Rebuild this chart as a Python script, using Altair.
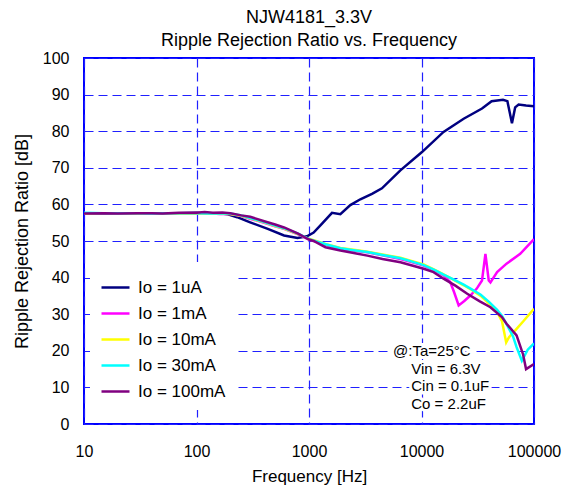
import altair as alt
import pandas as pd

series_names = ["Io = 1uA", "Io = 1mA", "Io = 10mA", "Io = 30mA", "Io = 100mA"]
series_colors = ["#000080", "#ff00ff", "#ffff00", "#00ffff", "#800080"]

# Io = 1uA
f_1uA = [10, 15, 20, 30, 40, 50, 70, 100, 130, 160, 190, 230, 300, 430, 600, 790, 960,
         1100, 1300, 1600, 1900, 2330, 2860, 3630, 4450, 6490, 10100, 15700, 23700,
         34500, 42000, 53000, 58000, 63700, 68000, 73000, 85000, 100000]
v_1uA = [57.6, 57.5, 57.6, 57.5, 57.6, 57.5, 57.6, 57.7, 57.5, 57.6, 57.3, 56.5, 55.1,
         53.3, 51.5, 50.8, 51.3, 52.3, 54.7, 57.7, 57.3, 59.8, 61.4, 62.9, 64.4, 69.3,
         74.3, 79.8, 83.4, 86.2, 88.2, 88.6, 88.2, 82.2, 86.5, 87.3, 87.0, 86.8]

# shared low-frequency part for 1mA / 10mA / 30mA
f_base = [10, 15, 20, 30, 40, 50, 70, 100, 130, 160, 200, 250, 300, 400, 500, 600, 800,
          1000, 1400, 1900, 2500, 3300, 4500, 6500, 8000, 10450, 13000, 15700]
v_1mA_low = [57.6, 57.6, 57.5, 57.6, 57.5, 57.6, 57.5, 57.5, 57.6, 57.4, 57.4, 56.8,
             56.1, 55.0, 54.0, 53.3, 51.8, 50.4, 49.0, 47.9, 47.4, 46.9, 46.1, 45.1,
             44.3, 43.3, 42.0, 40.6]
v_10mA_low = [57.5, 57.6, 57.6, 57.5, 57.6, 57.6, 57.5, 57.6, 57.5, 57.5, 57.4, 56.9,
              56.2, 55.1, 54.1, 53.4, 51.9, 50.6, 49.2, 48.1, 47.6, 47.1, 46.3, 45.4,
              44.6, 43.6, 42.2, 40.9]
v_30mA_low = [57.7, 57.6, 57.6, 57.6, 57.5, 57.6, 57.6, 57.6, 57.5, 57.6, 57.5, 57.0,
              56.3, 55.2, 54.2, 53.5, 52.0, 50.5, 49.1, 48.0, 47.5, 47.0, 46.2, 45.3,
              44.5, 43.4, 42.1, 40.8]

f_1mA_high = [18000, 19500, 21400, 24000, 27200, 31000, 34500, 37000, 39600, 41000,
              47000, 57000, 75400, 100000]
v_1mA_high = [38.8, 36.0, 32.4, 33.6, 35.1, 37.0, 39.2, 46.5, 39.2, 38.7, 41.5, 43.8,
              46.5, 50.5]

f_10mA_high = [19000, 23700, 28000, 33600, 40000, 47000, 52000, 56600, 60000, 70000,
               80000, 100000]
v_10mA_high = [39.5, 37.9, 36.6, 35.0, 32.8, 30.6, 28.0, 22.3, 23.7, 26.0, 28.0, 31.5]

f_30mA_high = [19000, 23700, 28000, 33600, 40000, 47000, 52000, 56600, 65000, 70000,
               78000, 88000, 100000]
v_30mA_high = [39.6, 38.1, 36.8, 35.3, 33.3, 31.2, 29.5, 27.5, 24.0, 21.0, 17.3, 20.3, 22.0]

# Io = 100mA
f_100mA = [10, 15, 20, 30, 40, 50, 70, 100, 118, 140, 170, 200, 250, 300, 400, 500, 600,
           800, 1000, 1100, 1400, 1900, 2500, 3300, 4500, 6500, 10450, 12800, 15700,
           20000, 25500, 33000, 41000, 51800, 57000, 70000, 80000, 85000, 100000]
v_100mA = [57.5, 57.6, 57.5, 57.6, 57.6, 57.5, 57.7, 57.7, 57.9, 57.7, 57.8, 57.6, 57.0,
           56.6, 55.4, 54.5, 53.7, 52.0, 50.4, 50.0, 48.3, 47.4, 46.7, 46.0, 45.1, 44.2,
           42.4, 41.5, 39.7, 37.8, 35.6, 33.5, 31.9, 29.2, 27.4, 24.2, 19.0, 15.0, 16.4]

ann_text = ["@:Ta=25°C", "Vin = 6.3V", "Cin = 0.1uF", "Co = 2.2uF"]
ann_freq = [5585, 8110, 8110, 8110]
ann_val = [20.0, 15.0, 10.3, 5.5]

series_f = [f_1uA, f_base + f_1mA_high, f_base + f_10mA_high, f_base + f_30mA_high, f_100mA]
series_v = [v_1uA, v_1mA_low + v_1mA_high, v_10mA_low + v_10mA_high,
            v_30mA_low + v_30mA_high, v_100mA]

rows = []
for name, fs, vs in zip(series_names, series_f, series_v):
    for i, (f, v) in enumerate(zip(fs, vs)):
        rows.append({"series": name, "freq": f, "val": v, "idx": i})
df = pd.DataFrame(rows)
ann = pd.DataFrame({"text": ann_text, "freq": ann_freq, "val": ann_val})

FONT = "Liberation Sans"
x_scale = alt.Scale(type="log", domain=[10, 100000])
y_scale = alt.Scale(domain=[0, 100])

x_axis = alt.Axis(values=[10, 100, 1000, 10000, 100000], format="d", title="Frequency [Hz]",
                  labelPadding=19, tickSize=0, domain=False, labelFontSize=16,
                  titleFontSize=17, titleFontWeight="normal", titleY=52,
                  titleBaseline="middle", labelFlush=False,
                  grid=True, gridColor="#2020ff", gridDash=[9, 5], gridWidth=1.2)
y_axis = alt.Axis(values=list(range(0, 101, 10)), title="Ripple Rejection Ratio [dB]",
                  labelPadding=15, tickSize=0, domain=False, labelFontSize=16,
                  titleFontSize=18, titleFontWeight="normal", titleX=-62,
                  titleBaseline="middle", labelFlush=False,
                  grid=True, gridColor="#2020ff", gridDash=[9, 5], gridWidth=1.2)

legend = alt.Legend(orient="none", legendX=6, legendY=204, title=None, fillColor="white",
                    padding=10, symbolType="stroke", symbolSize=784, symbolStrokeWidth=2.5,
                    labelFontSize=17, labelOffset=7, rowPadding=2, labelFont=FONT)
color = alt.Color("series:N", scale=alt.Scale(domain=series_names, range=series_colors),
                  legend=legend)

X = alt.X("freq:Q", scale=x_scale, axis=x_axis)
Y = alt.Y("val:Q", scale=y_scale, axis=y_axis)

base = alt.Chart(df)
layers = []
for name in series_names:
    layer = base.transform_filter(alt.datum.series == name).mark_line(
        strokeWidth=2.5, clip=True).encode(x=X, y=Y, color=color, order="idx:Q")
    layers.append(layer)

halo = alt.Chart(ann).mark_text(align="left", baseline="middle", fontSize=15, font=FONT,
                                 stroke="white", strokeWidth=6, fill="white").encode(
    x=X, y=Y, text="text:N")
txt = alt.Chart(ann).mark_text(align="left", baseline="middle", fontSize=15, font=FONT,
                                color="black").encode(x=X, y=Y, text="text:N")

chart = alt.layer(*layers, halo, txt).properties(
    width=450, height=366,
    title=alt.TitleParams(["NJW4181_3.3V", "Ripple Rejection Ratio vs. Frequency"],
                          fontSize=18, fontWeight="normal", font=FONT, anchor="middle",
                          offset=0, lineHeight=23, color="black"),
    autosize=alt.AutoSizeParams(type="none"),
    padding={"left": 76, "top": 50, "right": 37, "bottom": 61},
).configure(background="white").configure_view(
    stroke="#0000ff", strokeWidth=2
).configure_axis(
    labelFont=FONT, titleFont=FONT, labelColor="black", titleColor="black"
)

chart.save("out.html", embed_options={"renderer": "svg", "actions": False})
